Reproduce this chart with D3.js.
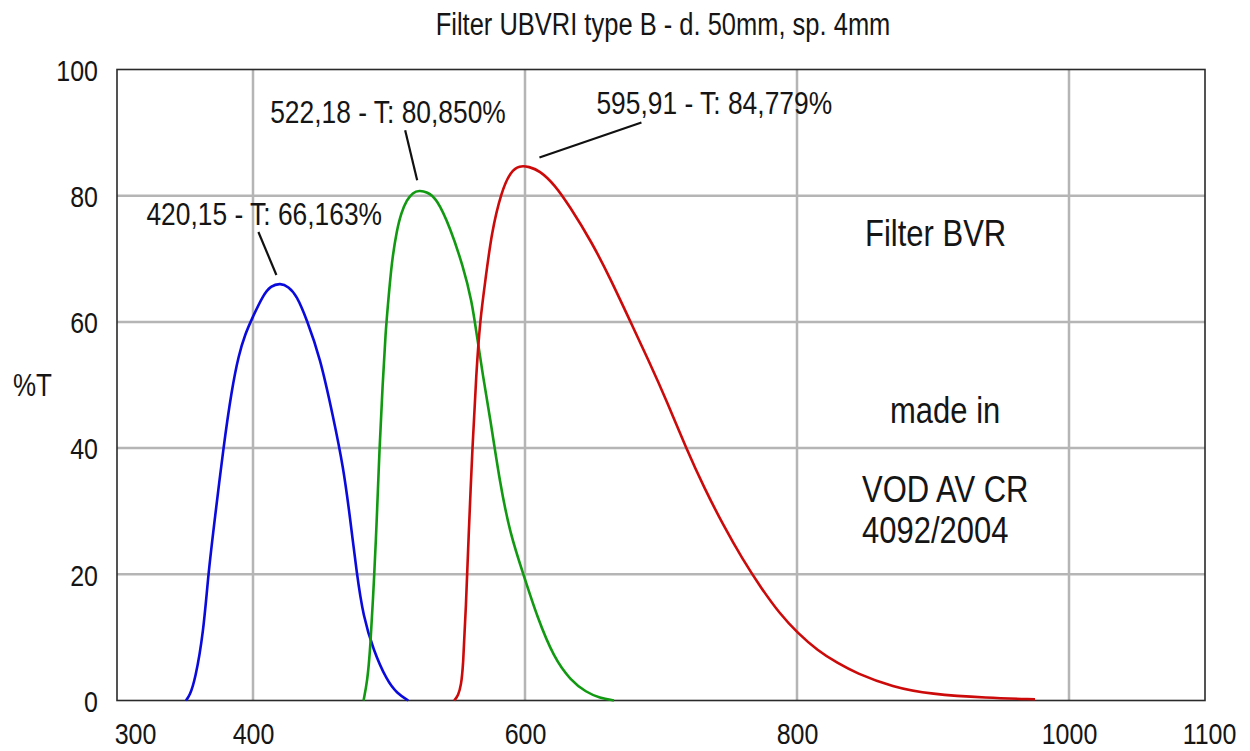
<!DOCTYPE html>
<html>
<head>
<meta charset="utf-8">
<script src="https://cdn.jsdelivr.net/npm/d3@7"></script>
<style>
  body { margin: 0; background: #fff; }
  text { font-family: "Liberation Sans", Arial, sans-serif; fill: #151515; }
</style>
</head>
<body>
<div id="chart"></div>
<script>
// Data: [wavelength nm, transmission %]
const blueB = [
  [350.7, 0], [353.5, 0.8], [357.4, 3.2], [363.5, 10.6], [367.1, 20.1], [372.1, 29.1],
  [378.2, 40], [384.3, 49.2], [389.5, 54.8], [394.5, 58.2], [399, 60.4], [407.6, 64.3],
  [413, 65.7], [420.15, 66.163], [426, 65.6], [432.1, 64.2], [439.5, 60.4], [449.3, 54.4],
  [459, 44.9], [466.4, 37], [471.3, 29.1], [476.3, 20.1], [481.1, 13.3], [488.5, 8],
  [498.3, 3.2], [506, 1.1], [514.2, 0]
];
const greenV = [
  [481.3, 0], [484, 3], [486.2, 7.9], [489.2, 20], [491.1, 29], [493, 40],
  [495.3, 50], [497.5, 58.5], [499.5, 63.4], [502, 69.5], [505.7, 74.5], [509, 77.3],
  [513, 79.3], [517.5, 80.5], [522.18, 80.85], [528, 80.6], [535, 79.6], [544.9, 75],
  [554.6, 68.7], [560.8, 63.4], [564.5, 58], [569, 51.5], [574.3, 44.9], [581.6, 34.4],
  [589, 26.5], [598.8, 20], [609, 13.2], [621.2, 6.8], [633.5, 3.2], [645, 1.3],
  [655, 0.4], [665.4, 0]
];
const redR = [
  [548, 0], [551, 0.8], [553, 2.5], [554.4, 5], [556.6, 14.9], [558.6, 26.5],
  [561.4, 40.4], [564.2, 52], [567, 60.4], [571.2, 67.1], [575.4, 74.1], [582.5, 80.6],
  [589.5, 83.9], [595.91, 84.779], [603, 84.6], [610.5, 84], [621.6, 81.8], [632.6, 78.4],
  [649.2, 72.6], [663.1, 66.7], [676.9, 60.3], [690.7, 54], [704.6, 47.3], [718.4, 40],
  [732.2, 33.5], [746, 27.7], [759.9, 22.4], [773.7, 17.8], [787.5, 13.7], [800, 10.8],
  [815.2, 7.9], [830, 5.9], [842.9, 4.4], [870.5, 2.1], [898.1, 1], [939.7, 0.4],
  [975, 0.2]
];
const xTicks = [300, 400, 600, 800, 1000, 1100];
const yTicks = [0, 20, 40, 60, 80, 100];
const xGrid = [400, 600, 800, 1000];
const yGrid = [20, 40, 60, 80];
const peaks = [
  { x: 420.15, y: 66.163, label: "420,15 - T: 66,163%" },
  { x: 522.18, y: 80.85, label: "522,18 - T: 80,850%" },
  { x: 595.91, y: 84.779, label: "595,91 - T: 84,779%" }
];
const notes = ["Filter BVR", "made in", "VOD AV CR", "4092/2004"];

const width = 1250;
const height = 751;
const sy = 1.2; // text in the picture is stretched vertically

const svg = d3.select("#chart")
  .append("svg")
  .attr("width", width)
  .attr("height", height);

const x = d3.scaleLinear().domain([300, 1100]).range([117, 1205]);
const y = d3.scaleLinear().domain([0, 100]).range([700.5, 69.5]);

function label(g, px, py, str, size, anchor) {
  return g.append("text")
    .attr("transform", `translate(${px},${py}) scale(1,${sy})`)
    .attr("font-size", size)
    .attr("text-anchor", anchor || "start")
    .text(str);
}

// Grid
svg.append("g")
  .selectAll("line")
  .data(xGrid)
  .join("line")
  .attr("x1", d => x(d)).attr("x2", d => x(d))
  .attr("y1", y(0)).attr("y2", y(100))
  .attr("stroke", "#b5b5b5").attr("stroke-width", 2.5);
svg.append("g")
  .selectAll("line")
  .data(yGrid)
  .join("line")
  .attr("x1", x(300)).attr("x2", x(1100))
  .attr("y1", d => y(d)).attr("y2", d => y(d))
  .attr("stroke", "#b5b5b5").attr("stroke-width", 2.5);

// Axes
const xAxis = svg.append("g")
  .attr("transform", `translate(0,${y(0)})`)
  .call(d3.axisBottom(x).tickValues(xTicks).tickSize(0).tickFormat(d3.format("d")));
xAxis.select(".domain").remove();
xAxis.selectAll("text")
  .attr("font-size", 25)
  .attr("fill", "#151515")
  .attr("font-family", "Liberation Sans, Arial, sans-serif")
  .attr("dy", null)
  .attr("y", 44 / sy)
  .attr("transform", `scale(1,${sy})`)
  .attr("dx", (d, i) => i === 0 ? 18 : (d === 1100 ? 4 : 0));

const yAxis = svg.append("g")
  .attr("transform", `translate(${x(300)},0)`)
  .call(d3.axisLeft(y).tickValues(yTicks).tickSize(0));
yAxis.select(".domain").remove();
yAxis.selectAll(".tick text")
  .attr("font-size", 25)
  .attr("fill", "#151515")
  .attr("font-family", "Liberation Sans, Arial, sans-serif")
  .attr("x", -19)
  .attr("y", 0)
  .attr("dy", "0.36em")
  .attr("transform", `scale(1,${sy})`);

// Border
svg.append("rect")
  .attr("x", x(300)).attr("y", y(100))
  .attr("width", x(1100) - x(300))
  .attr("height", y(0) - y(100))
  .attr("fill", "none")
  .attr("stroke", "#2a2a2a")
  .attr("stroke-width", 1.6);

// Curves (B-spline smooths out reading noise)
const line = d3.line()
  .x(d => x(d[0]))
  .y(d => y(d[1]))
  .curve(d3.curveBasis);

[[blueB, "#0a0adc"], [greenV, "#119a11"], [redR, "#cc0a0a"]].forEach(([data, color]) => {
  svg.append("path")
    .datum(data)
    .attr("d", line)
    .attr("fill", "none")
    .attr("stroke", color)
    .attr("stroke-width", 2.6);
});

// Peak annotations
const leaders = [
  { a: [-4, -8], b: [-22, -51], t: [-134, -58] },
  { a: [-2, -10], b: [-14, -60], t: [-149, -67] },
  { a: [20, -8], b: [122, -43], t: [77, -52] }
];
const ann = svg.append("g");
peaks.forEach((p, i) => {
  const px = x(p.x), py = y(p.y), o = leaders[i];
  ann.append("line")
    .attr("x1", px + o.a[0]).attr("y1", py + o.a[1])
    .attr("x2", px + o.b[0]).attr("y2", py + o.b[1])
    .attr("stroke", "#111").attr("stroke-width", 2.2);
  label(ann, px + o.t[0], py + o.t[1], p.label, 26.4);
});

// Titles and notes
label(svg, 663, 35, "Filter UBVRI type B - d. 50mm, sp. 4mm", 25.5, "middle");
label(svg, 13, 396, "%T", 26);
label(svg, 865, 246, notes[0], 31);
label(svg, 890, 423, notes[1], 31);
label(svg, 862, 502, notes[2], 31);
label(svg, 862, 543, notes[3], 31);
</script>
</body>
</html>
